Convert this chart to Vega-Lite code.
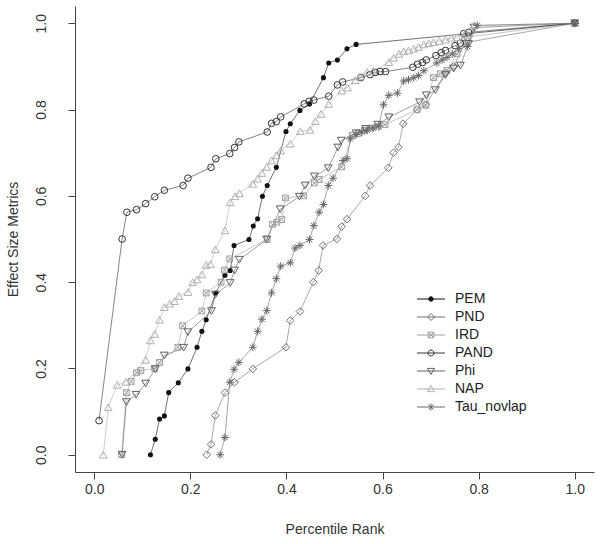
{
 "$schema": "https://vega.github.io/schema/vega-lite/v6.json",
 "width": 519, "height": 466,
 "autosize": "none",
 "padding": {"left": 75, "top": 6, "right": 7, "bottom": 72},
 "background": "white",
 "config": {
  "view": {"stroke": null},
  "font": "Liberation Sans",
  "axis": {"grid": false, "tickSize": 7, "labelFontSize": 14, "titleFontSize": 14, "titleFontWeight": "normal", "labelColor": "#333", "titleColor": "#333", "domainColor": "#444", "tickColor": "#444", "labelFlush": false},
  "legend": {"orient": "none", "legendX": 349, "legendY": 286, "padding": 0, "labelFont": "Liberation Sans", "labelFontSize": 14, "labelColor": "#222", "labelOffset": 17, "rowPadding": 4, "symbolStrokeWidth": 1, "symbolSize": 49}
 },
 "datasets": {"d": [
  {"s":"PEM","x":0.117,"y":0},{"s":"PEM","x":0.127,"y":0.036},{"s":"PEM","x":0.136,"y":0.083},{"s":"PEM","x":0.146,"y":0.09},{"s":"PEM","x":0.155,"y":0.144},{"s":"PEM","x":0.175,"y":0.167},{"s":"PEM","x":0.195,"y":0.199},{"s":"PEM","x":0.214,"y":0.249},{"s":"PEM","x":0.224,"y":0.286},{"s":"PEM","x":0.233,"y":0.313},{"s":"PEM","x":0.253,"y":0.375},{"s":"PEM","x":0.272,"y":0.416},{"s":"PEM","x":0.283,"y":0.427},{"s":"PEM","x":0.291,"y":0.485},{"s":"PEM","x":0.322,"y":0.499},{"s":"PEM","x":0.331,"y":0.53},{"s":"PEM","x":0.34,"y":0.547},{"s":"PEM","x":0.35,"y":0.599},{"s":"PEM","x":0.36,"y":0.624},{"s":"PEM","x":0.379,"y":0.666},{"s":"PEM","x":0.399,"y":0.749},{"s":"PEM","x":0.408,"y":0.767},{"s":"PEM","x":0.428,"y":0.798},{"s":"PEM","x":0.448,"y":0.813},{"s":"PEM","x":0.477,"y":0.874},{"s":"PEM","x":0.488,"y":0.908},{"s":"PEM","x":0.506,"y":0.915},{"s":"PEM","x":0.526,"y":0.941},{"s":"PEM","x":0.545,"y":0.951},{"s":"PEM","x":1,"y":1},
  {"s":"PND","x":0.234,"y":0},{"s":"PND","x":0.243,"y":0.024},{"s":"PND","x":0.252,"y":0.091},{"s":"PND","x":0.272,"y":0.144},{"s":"PND","x":0.292,"y":0.168},{"s":"PND","x":0.33,"y":0.199},{"s":"PND","x":0.399,"y":0.249},{"s":"PND","x":0.408,"y":0.311},{"s":"PND","x":0.428,"y":0.332},{"s":"PND","x":0.456,"y":0.4},{"s":"PND","x":0.467,"y":0.427},{"s":"PND","x":0.476,"y":0.485},{"s":"PND","x":0.505,"y":0.5},{"s":"PND","x":0.515,"y":0.529},{"s":"PND","x":0.526,"y":0.546},{"s":"PND","x":0.564,"y":0.6},{"s":"PND","x":0.574,"y":0.624},{"s":"PND","x":0.612,"y":0.665},{"s":"PND","x":0.623,"y":0.7},{"s":"PND","x":0.633,"y":0.713},{"s":"PND","x":0.643,"y":0.767},{"s":"PND","x":0.672,"y":0.8},{"s":"PND","x":0.69,"y":0.812},{"s":"PND","x":0.731,"y":0.885},{"s":"PND","x":0.748,"y":0.9},{"s":"PND","x":0.772,"y":0.955},{"s":"PND","x":1,"y":1},
  {"s":"IRD","x":0.057,"y":0},{"s":"IRD","x":0.067,"y":0.144},{"s":"IRD","x":0.077,"y":0.17},{"s":"IRD","x":0.088,"y":0.19},{"s":"IRD","x":0.097,"y":0.195},{"s":"IRD","x":0.126,"y":0.2},{"s":"IRD","x":0.136,"y":0.214},{"s":"IRD","x":0.174,"y":0.249},{"s":"IRD","x":0.184,"y":0.299},{"s":"IRD","x":0.224,"y":0.333},{"s":"IRD","x":0.233,"y":0.375},{"s":"IRD","x":0.264,"y":0.4},{"s":"IRD","x":0.271,"y":0.428},{"s":"IRD","x":0.282,"y":0.454},{"s":"IRD","x":0.36,"y":0.499},{"s":"IRD","x":0.371,"y":0.534},{"s":"IRD","x":0.38,"y":0.539},{"s":"IRD","x":0.39,"y":0.545},{"s":"IRD","x":0.398,"y":0.595},{"s":"IRD","x":0.436,"y":0.6},{"s":"IRD","x":0.458,"y":0.63},{"s":"IRD","x":0.468,"y":0.638},{"s":"IRD","x":0.515,"y":0.667},{"s":"IRD","x":0.537,"y":0.74},{"s":"IRD","x":0.55,"y":0.745},{"s":"IRD","x":0.562,"y":0.752},{"s":"IRD","x":0.575,"y":0.757},{"s":"IRD","x":0.59,"y":0.76},{"s":"IRD","x":0.605,"y":0.765},{"s":"IRD","x":0.672,"y":0.8},{"s":"IRD","x":0.69,"y":0.81},{"s":"IRD","x":0.706,"y":0.874},{"s":"IRD","x":0.72,"y":0.883},{"s":"IRD","x":0.734,"y":0.891},{"s":"IRD","x":0.755,"y":0.929},{"s":"IRD","x":0.776,"y":0.968},{"s":"IRD","x":1,"y":1},
  {"s":"PAND","x":0.01,"y":0.079},{"s":"PAND","x":0.058,"y":0.5},{"s":"PAND","x":0.068,"y":0.562},{"s":"PAND","x":0.088,"y":0.568},{"s":"PAND","x":0.107,"y":0.582},{"s":"PAND","x":0.126,"y":0.598},{"s":"PAND","x":0.146,"y":0.613},{"s":"PAND","x":0.185,"y":0.624},{"s":"PAND","x":0.195,"y":0.641},{"s":"PAND","x":0.243,"y":0.666},{"s":"PAND","x":0.253,"y":0.686},{"s":"PAND","x":0.282,"y":0.698},{"s":"PAND","x":0.292,"y":0.712},{"s":"PAND","x":0.301,"y":0.725},{"s":"PAND","x":0.36,"y":0.748},{"s":"PAND","x":0.369,"y":0.768},{"s":"PAND","x":0.379,"y":0.772},{"s":"PAND","x":0.388,"y":0.783},{"s":"PAND","x":0.437,"y":0.813},{"s":"PAND","x":0.447,"y":0.819},{"s":"PAND","x":0.457,"y":0.822},{"s":"PAND","x":0.488,"y":0.831},{"s":"PAND","x":0.506,"y":0.857},{"s":"PAND","x":0.517,"y":0.864},{"s":"PAND","x":0.555,"y":0.874},{"s":"PAND","x":0.574,"y":0.881},{"s":"PAND","x":0.585,"y":0.886},{"s":"PAND","x":0.595,"y":0.888},{"s":"PAND","x":0.606,"y":0.888},{"s":"PAND","x":0.663,"y":0.898},{"s":"PAND","x":0.673,"y":0.905},{"s":"PAND","x":0.683,"y":0.909},{"s":"PAND","x":0.691,"y":0.915},{"s":"PAND","x":0.711,"y":0.925},{"s":"PAND","x":0.722,"y":0.932},{"s":"PAND","x":0.731,"y":0.937},{"s":"PAND","x":0.751,"y":0.948},{"s":"PAND","x":0.762,"y":0.954},{"s":"PAND","x":0.769,"y":0.976},{"s":"PAND","x":0.779,"y":0.979},{"s":"PAND","x":1,"y":1},
  {"s":"Phi","x":0.058,"y":0},{"s":"Phi","x":0.067,"y":0.122},{"s":"Phi","x":0.087,"y":0.139},{"s":"Phi","x":0.107,"y":0.165},{"s":"Phi","x":0.127,"y":0.198},{"s":"Phi","x":0.146,"y":0.23},{"s":"Phi","x":0.186,"y":0.248},{"s":"Phi","x":0.195,"y":0.284},{"s":"Phi","x":0.244,"y":0.333},{"s":"Phi","x":0.252,"y":0.371},{"s":"Phi","x":0.283,"y":0.398},{"s":"Phi","x":0.292,"y":0.427},{"s":"Phi","x":0.302,"y":0.452},{"s":"Phi","x":0.359,"y":0.499},{"s":"Phi","x":0.387,"y":0.569},{"s":"Phi","x":0.427,"y":0.598},{"s":"Phi","x":0.439,"y":0.624},{"s":"Phi","x":0.458,"y":0.645},{"s":"Phi","x":0.487,"y":0.664},{"s":"Phi","x":0.507,"y":0.712},{"s":"Phi","x":0.514,"y":0.728},{"s":"Phi","x":0.545,"y":0.745},{"s":"Phi","x":0.565,"y":0.755},{"s":"Phi","x":0.59,"y":0.765},{"s":"Phi","x":0.613,"y":0.782},{"s":"Phi","x":0.677,"y":0.817},{"s":"Phi","x":0.691,"y":0.833},{"s":"Phi","x":0.71,"y":0.845},{"s":"Phi","x":0.731,"y":0.88},{"s":"Phi","x":0.748,"y":0.895},{"s":"Phi","x":0.762,"y":0.902},{"s":"Phi","x":0.779,"y":0.952},{"s":"Phi","x":0.79,"y":0.99},{"s":"Phi","x":1,"y":1},
  {"s":"NAP","x":0.019,"y":0},{"s":"NAP","x":0.029,"y":0.11},{"s":"NAP","x":0.048,"y":0.162},{"s":"NAP","x":0.066,"y":0.169},{"s":"NAP","x":0.107,"y":0.22},{"s":"NAP","x":0.117,"y":0.265},{"s":"NAP","x":0.126,"y":0.28},{"s":"NAP","x":0.136,"y":0.313},{"s":"NAP","x":0.146,"y":0.342},{"s":"NAP","x":0.157,"y":0.35},{"s":"NAP","x":0.167,"y":0.356},{"s":"NAP","x":0.176,"y":0.368},{"s":"NAP","x":0.195,"y":0.377},{"s":"NAP","x":0.205,"y":0.4},{"s":"NAP","x":0.214,"y":0.406},{"s":"NAP","x":0.224,"y":0.418},{"s":"NAP","x":0.233,"y":0.44},{"s":"NAP","x":0.242,"y":0.442},{"s":"NAP","x":0.252,"y":0.476},{"s":"NAP","x":0.272,"y":0.52},{"s":"NAP","x":0.283,"y":0.585},{"s":"NAP","x":0.293,"y":0.599},{"s":"NAP","x":0.302,"y":0.606},{"s":"NAP","x":0.33,"y":0.628},{"s":"NAP","x":0.34,"y":0.64},{"s":"NAP","x":0.349,"y":0.653},{"s":"NAP","x":0.359,"y":0.667},{"s":"NAP","x":0.369,"y":0.682},{"s":"NAP","x":0.379,"y":0.694},{"s":"NAP","x":0.388,"y":0.705},{"s":"NAP","x":0.408,"y":0.721},{"s":"NAP","x":0.429,"y":0.75},{"s":"NAP","x":0.449,"y":0.753},{"s":"NAP","x":0.46,"y":0.773},{"s":"NAP","x":0.472,"y":0.79},{"s":"NAP","x":0.488,"y":0.813},{"s":"NAP","x":0.515,"y":0.844},{"s":"NAP","x":0.527,"y":0.851},{"s":"NAP","x":0.543,"y":0.868},{"s":"NAP","x":0.553,"y":0.877},{"s":"NAP","x":0.568,"y":0.887},{"s":"NAP","x":0.58,"y":0.889},{"s":"NAP","x":0.613,"y":0.91},{"s":"NAP","x":0.623,"y":0.92},{"s":"NAP","x":0.634,"y":0.929},{"s":"NAP","x":0.644,"y":0.935},{"s":"NAP","x":0.654,"y":0.937},{"s":"NAP","x":0.665,"y":0.941},{"s":"NAP","x":0.675,"y":0.945},{"s":"NAP","x":0.686,"y":0.951},{"s":"NAP","x":0.696,"y":0.954},{"s":"NAP","x":0.706,"y":0.956},{"s":"NAP","x":0.718,"y":0.959},{"s":"NAP","x":0.731,"y":0.962},{"s":"NAP","x":0.743,"y":0.966},{"s":"NAP","x":0.755,"y":0.968},{"s":"NAP","x":0.772,"y":0.976},{"s":"NAP","x":0.79,"y":0.995},{"s":"NAP","x":1,"y":1},
  {"s":"Tau_novlap","x":0.262,"y":0},{"s":"Tau_novlap","x":0.272,"y":0.04},{"s":"Tau_novlap","x":0.282,"y":0.168},{"s":"Tau_novlap","x":0.291,"y":0.198},{"s":"Tau_novlap","x":0.301,"y":0.214},{"s":"Tau_novlap","x":0.33,"y":0.249},{"s":"Tau_novlap","x":0.34,"y":0.286},{"s":"Tau_novlap","x":0.349,"y":0.314},{"s":"Tau_novlap","x":0.359,"y":0.334},{"s":"Tau_novlap","x":0.369,"y":0.375},{"s":"Tau_novlap","x":0.379,"y":0.408},{"s":"Tau_novlap","x":0.388,"y":0.437},{"s":"Tau_novlap","x":0.408,"y":0.445},{"s":"Tau_novlap","x":0.418,"y":0.479},{"s":"Tau_novlap","x":0.428,"y":0.485},{"s":"Tau_novlap","x":0.448,"y":0.499},{"s":"Tau_novlap","x":0.457,"y":0.531},{"s":"Tau_novlap","x":0.468,"y":0.562},{"s":"Tau_novlap","x":0.477,"y":0.58},{"s":"Tau_novlap","x":0.487,"y":0.624},{"s":"Tau_novlap","x":0.497,"y":0.641},{"s":"Tau_novlap","x":0.518,"y":0.682},{"s":"Tau_novlap","x":0.526,"y":0.686},{"s":"Tau_novlap","x":0.533,"y":0.732},{"s":"Tau_novlap","x":0.545,"y":0.742},{"s":"Tau_novlap","x":0.557,"y":0.748},{"s":"Tau_novlap","x":0.568,"y":0.752},{"s":"Tau_novlap","x":0.58,"y":0.757},{"s":"Tau_novlap","x":0.592,"y":0.762},{"s":"Tau_novlap","x":0.602,"y":0.811},{"s":"Tau_novlap","x":0.613,"y":0.833},{"s":"Tau_novlap","x":0.631,"y":0.838},{"s":"Tau_novlap","x":0.644,"y":0.866},{"s":"Tau_novlap","x":0.654,"y":0.869},{"s":"Tau_novlap","x":0.665,"y":0.874},{"s":"Tau_novlap","x":0.675,"y":0.879},{"s":"Tau_novlap","x":0.686,"y":0.89},{"s":"Tau_novlap","x":0.713,"y":0.908},{"s":"Tau_novlap","x":0.724,"y":0.915},{"s":"Tau_novlap","x":0.734,"y":0.921},{"s":"Tau_novlap","x":0.745,"y":0.929},{"s":"Tau_novlap","x":0.758,"y":0.941},{"s":"Tau_novlap","x":0.777,"y":0.946},{"s":"Tau_novlap","x":0.797,"y":0.995},{"s":"Tau_novlap","x":1,"y":1}
 ]},
 "data": {"name": "d"},
 "encoding": {
  "x": {"field": "x", "type": "quantitative", "scale": {"domain": [-0.04, 1.04], "nice": false, "zero": false}, "axis": {"title": "Percentile Rank", "values": [0, 0.2, 0.4, 0.6, 0.8, 1], "format": ".1f", "labelPadding": 3, "titlePadding": 26}},
  "y": {"field": "y", "type": "quantitative", "scale": {"domain": [-0.04, 1.04], "nice": false, "zero": false}, "axis": {"title": "Effect Size Metrics", "values": [0, 0.2, 0.4, 0.6, 0.8, 1], "format": ".1f", "labelAngle": -90, "labelAlign": "center", "labelBaseline": "bottom", "labelPadding": 20, "titlePadding": 14}}
 },
 "layer": [
  {"mark": {"type": "line", "strokeWidth": 0.6},
   "encoding": {
    "stroke": {"field": "s", "type": "nominal", "title": null, "scale": {"domain": ["PEM","PND","IRD","PAND","Phi","NAP","Tau_novlap"], "range": ["#111111","#707070","#a0a0a0","#333333","#606060","#b0b0b0","#666666"]}},
    "detail": {"field": "s"}}},
  {"transform": [{"filter": "datum.s == 'PEM'"}], "mark": {"type": "point", "shape": "circle", "filled": true, "size": 26, "color": "#111111", "opacity": 1}},
  {"transform": [{"filter": "datum.s == 'PND'"}], "mark": {"type": "point", "shape": "diamond", "filled": false, "size": 58, "stroke": "#707070", "strokeWidth": 1, "opacity": 1}},
  {"transform": [{"filter": "datum.s == 'IRD'"}], "mark": {"type": "point", "shape": "M-1,-1H1V1H-1ZM-1,-1L1,1M1,-1L-1,1", "filled": false, "size": 34, "stroke": "#a0a0a0", "strokeWidth": 1, "opacity": 1}},
  {"transform": [{"filter": "datum.s == 'PAND'"}], "mark": {"type": "point", "shape": "circle", "filled": false, "size": 44, "stroke": "#333333", "strokeWidth": 1, "opacity": 1}},
  {"transform": [{"filter": "datum.s == 'Phi'"}], "mark": {"type": "point", "shape": "triangle-down", "filled": false, "size": 60, "stroke": "#606060", "strokeWidth": 1, "opacity": 1}},
  {"transform": [{"filter": "datum.s == 'NAP'"}], "mark": {"type": "point", "shape": "triangle-up", "filled": false, "size": 60, "stroke": "#b0b0b0", "strokeWidth": 1, "opacity": 1}},
  {"transform": [{"filter": "datum.s == 'Tau_novlap'"}], "mark": {"type": "point", "shape": "M-1,0H1M0,-1V1M-0.71,-0.71L0.71,0.71M-0.71,0.71L0.71,-0.71", "filled": false, "size": 62, "stroke": "#666666", "strokeWidth": 1, "opacity": 1}},
  {"transform": [{"filter": "false"}],
   "mark": {"type": "point", "size": 49, "opacity": 1, "strokeWidth": 1},
   "encoding": {
    "stroke": {"field": "s", "type": "nominal", "title": null, "scale": {"domain": ["PEM","PND","IRD","PAND","Phi","NAP","Tau_novlap"], "range": ["#111111","#707070","#a0a0a0","#333333","#606060","#b0b0b0","#666666"]}},
    "fill": {"field": "s", "type": "nominal", "title": null, "scale": {"domain": ["PEM","PND","IRD","PAND","Phi","NAP","Tau_novlap"], "range": ["#111111","transparent","transparent","transparent","transparent","transparent","transparent"]}},
    "shape": {"field": "s", "type": "nominal", "title": null, "scale": {"domain": ["PEM","PND","IRD","PAND","Phi","NAP","Tau_novlap"], "range": [
      "M-4,0H4M-0.65,0A0.65,0.65,0,1,0,0.65,0A0.65,0.65,0,1,0,-0.65,0Z",
      "M-4,0H4M0,-1L1,0L0,1L-1,0Z",
      "M-4,0H4M-0.8,-0.8H0.8V0.8H-0.8ZM-0.8,-0.8L0.8,0.8M0.8,-0.8L-0.8,0.8",
      "M-4,0H4M-0.85,0A0.85,0.85,0,1,0,0.85,0A0.85,0.85,0,1,0,-0.85,0Z",
      "M-4,0H4M-1,-0.75H1L0,1Z",
      "M-4,0H4M-1,0.75H1L0,-1Z",
      "M-4,0H4M0,-1V1M-0.7,-0.7L0.7,0.7M-0.7,0.7L0.7,-0.7"]}}
   }}
 ]
}
